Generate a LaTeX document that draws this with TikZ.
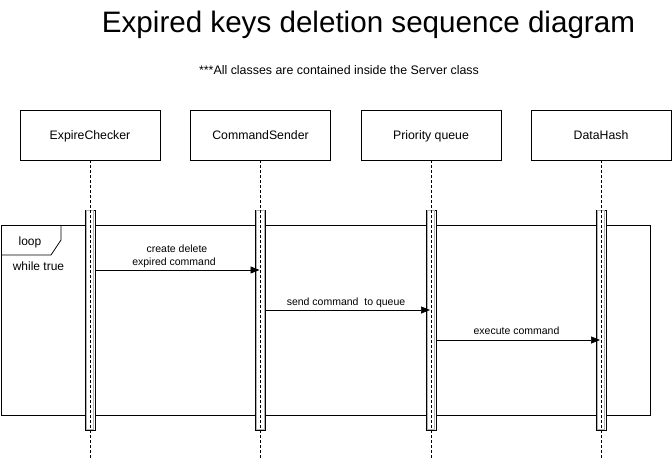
\documentclass[tikz,border=0pt]{standalone}
\usepackage{fontspec}
\setmainfont{Liberation Sans}
\usetikzlibrary{arrows.meta}
\begin{document}
\begin{tikzpicture}[x=1pt,y=-1pt,
  classbox/.style={draw=black,line width=0.8pt,minimum width=140pt,minimum height=50pt,inner sep=0pt},
  classtext/.style={anchor=base,inner sep=0pt,font=\fontsize{12.3}{14}\selectfont},
  lifeline/.style={black,line width=0.7pt,dash pattern=on 3pt off 2pt},
  actbar/.style={draw=black,fill=white,line width=0.6pt,minimum width=10pt,minimum height=220pt,inner sep=0pt},
  msg/.style={line width=0.7pt,-{Triangle[length=9pt,width=7pt]}},
  lbl/.style={anchor=base,inner sep=0pt,font=\fontsize{10.5}{12.5}\selectfont},
  frametext/.style={anchor=base,inner sep=0pt,font=\fontsize{12}{14}\selectfont}]
\useasboundingbox (0,0) rectangle (672,463);
% title
\node[anchor=base,inner sep=0pt,font=\fontsize{29.6}{34}\selectfont] (title) at (368.5,32.3) {Expired keys deletion sequence diagram};
\node[anchor=base,inner sep=0pt,font=\fontsize{12.4}{14}\selectfont] (sub) at (339,74) {***All classes are contained inside the Server class};
% classes
\node[classbox] (ec) at (90,135) {};
\node[classbox] (cs) at (260.5,135) {};
\node[classbox] (pq) at (431,135) {};
\node[classbox] (dh) at (601,135) {};
\node[classtext] (ect) at (90,139.5) {ExpireChecker};
\node[classtext] (cst) at (260.5,139.5) {CommandSender};
\node[classtext] (pqt) at (431,139.5) {Priority queue};
\node[classtext] (dht) at (601,139.5) {DataHash};
% lifeline ends
\coordinate (ecE) at (90,460);
\coordinate (csE) at (260.5,460);
\coordinate (pqE) at (431,460);
\coordinate (dhE) at (601,460);
% loop frame
\draw[line width=0.8pt] (1,225) rectangle (650,415);
\draw[line width=0.8pt] (1,255) -- (51,255) -- (61,240) -- (61,225);
\node[frametext] (looplbl) at (30,245.5) {loop};
\node[frametext] (guard) at (38.5,270.5) {while true};
% activation bars
\foreach \n/\x in {bec/90,bcs/260.5,bpq/431,bdh/601}{
  \node[actbar] (\n) at (\x,320) {};
  \draw[gray!60,line width=0.8pt] (\x-3.8,210.8) rectangle (\x+3.8,429.2);
}
% lifelines
\draw[lifeline] (ec.south) -- (ecE);
\draw[lifeline] (cs.south) -- (csE);
\draw[lifeline] (pq.south) -- (pqE);
\draw[lifeline] (dh.south) -- (dhE);
% messages
\coordinate (m1s) at (96,270); \coordinate (m1e) at (259.5,270);
\coordinate (m2s) at (266,310); \coordinate (m2e) at (430,310);
\coordinate (m3s) at (436,340); \coordinate (m3e) at (600,340);
\draw[msg] (m1s) -- (m1e);
\draw[msg] (m2s) -- (m2e);
\draw[msg] (m3s) -- (m3e);
\node[lbl] (l1a) at (177,252) {create delete};
\node[lbl] (l1b) at (174,265) {expired command};
\node[lbl] (l2) at (346,305) {send command\ \ to queue};
\node[lbl] (l3) at (516.5,334) {execute command};
\end{tikzpicture}
\end{document}
